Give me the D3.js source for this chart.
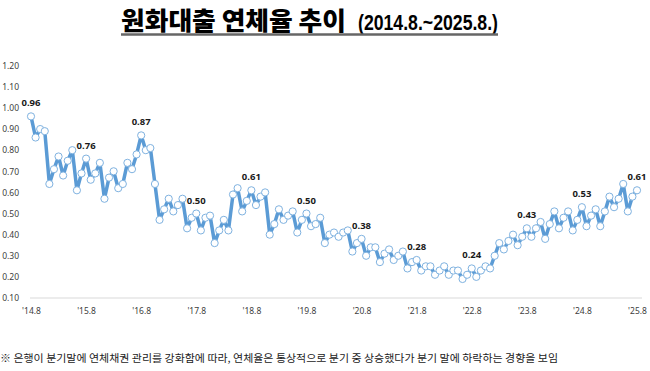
<!DOCTYPE html>
<html>
<head>
<meta charset="utf-8">
<script src="https://cdn.jsdelivr.net/npm/d3@7"></script>
<style>
  body { margin: 0; background: #fff; }
  svg { display: block; }
</style>
</head>
<body>
<div class="container"></div>
<script>
// monthly won-loan delinquency rate (%), 2014.8 ~ 2025.8
const months = [];
for (let y = 2014; y <= 2025; y++) {
  for (let m = 1; m <= 12; m++) {
    if ((y === 2014 && m < 8) || (y === 2025 && m > 8)) continue;
    months.push(y + "." + m);
  }
}

const rates = [
  0.96, 0.86, 0.90, 0.89, 0.64,                                     // 2014.8-12
  0.71, 0.77, 0.68, 0.75, 0.80, 0.61, 0.69, 0.76, 0.66, 0.69, 0.74, 0.57, // 2015
  0.67, 0.70, 0.62, 0.64, 0.74, 0.71, 0.78, 0.87, 0.80, 0.81, 0.64, 0.47, // 2016
  0.52, 0.57, 0.51, 0.54, 0.57, 0.43, 0.48, 0.50, 0.42, 0.48, 0.49, 0.36, // 2017
  0.42, 0.47, 0.42, 0.59, 0.62, 0.51, 0.56, 0.61, 0.54, 0.58, 0.60, 0.40, // 2018
  0.45, 0.52, 0.47, 0.49, 0.51, 0.41, 0.47, 0.50, 0.44, 0.45, 0.48, 0.36, // 2019
  0.40, 0.41, 0.39, 0.41, 0.42, 0.32, 0.36, 0.38, 0.30, 0.34, 0.34, 0.27, // 2020
  0.31, 0.33, 0.28, 0.30, 0.32, 0.24, 0.27, 0.28, 0.23, 0.25, 0.25, 0.21, // 2021
  0.23, 0.25, 0.21, 0.23, 0.23, 0.19, 0.21, 0.24, 0.20, 0.23, 0.25, 0.24, // 2022
  0.30, 0.36, 0.33, 0.37, 0.40, 0.35, 0.39, 0.43, 0.39, 0.43, 0.46, 0.38, // 2023
  0.45, 0.51, 0.43, 0.48, 0.51, 0.42, 0.47, 0.53, 0.44, 0.49, 0.52, 0.44, // 2024
  0.51, 0.58, 0.53, 0.57, 0.64, 0.51, 0.58, 0.61                    // 2025.1-8
];

// x tick labels (every August) and y ticks
const xTickLabels = ["'14.8", "'15.8", "'16.8", "'17.8", "'18.8", "'19.8", "'20.8", "'21.8", "'22.8", "'23.8", "'24.8", "'25.8"];
const yTicks = [0.10, 0.20, 0.30, 0.40, 0.50, 0.60, 0.70, 0.80, 0.90, 1.00, 1.10, 1.20];

const title = "원화대출 연체율 추이";
const period = "(2014.8.~2025.8.)";
const footnote = "※ 은행이 분기말에 연체채권 관리를 강화함에 따라, 연체율은 통상적으로 분기 중 상승했다가 분기 말에 하락하는 경향을 보임";

const width = 650;
const height = 371;
const blue = "#5B9BD5";

const svg = d3.select(".container")
              .append("svg")
              .attr("width", width)
              .attr("height", height);

// title
svg.append("text")
   .attr("x", 121)
   .attr("y", 30)
   .attr("font-family", "'Noto Sans CJK KR'")
   .attr("font-weight", 900)
   .attr("font-size", 25)
   .attr("textLength", 225)
   .attr("lengthAdjust", "spacingAndGlyphs")
   .attr("fill", "#000")
   .text(title);

svg.append("text")
   .attr("x", 358)
   .attr("y", 30)
   .attr("font-family", "'Liberation Sans Narrow', 'Liberation Sans', sans-serif")
   .attr("font-weight", "bold")
   .attr("font-size", 22)
   .attr("textLength", 140)
   .attr("lengthAdjust", "spacingAndGlyphs")
   .attr("fill", "#000")
   .text(period);

// title underline
svg.append("line")
   .attr("x1", 121)
   .attr("x2", 498)
   .attr("y1", 34.5)
   .attr("y2", 34.5)
   .attr("stroke", "#666")
   .attr("stroke-width", 2.5);

// scales
const x = d3.scaleLinear()
            .domain([0, rates.length - 1])
            .range([31, 637]);

const y = d3.scaleLinear()
            .domain([0.1, 1.2])
            .range([298, 65.7]);

// y axis labels only (no line, no ticks)
const yAxis = d3.axisLeft(y)
                .tickValues(yTicks)
                .tickFormat(d3.format(".2f"))
                .tickSize(0)
                .tickPadding(0);

const gy = svg.append("g")
              .attr("transform", "translate(19,0)")
              .call(yAxis);
gy.select(".domain").remove();
gy.selectAll("text")
  .attr("font-family", "'Noto Sans', sans-serif")
  .attr("font-size", 8.5)
  .attr("fill", "#404040");

// x axis
const xAxis = d3.axisBottom(x)
                .tickValues(d3.range(0, rates.length, 12))
                .tickFormat((d, i) => xTickLabels[i])
                .tickSize(0)
                .tickPadding(10);

const gx = svg.append("g")
              .attr("transform", "translate(0,298)")
              .call(xAxis);
gx.select(".domain")
  .attr("d", "M30,0H642")
  .attr("stroke", "#d9d9d9")
  .attr("stroke-width", 1);
gx.selectAll("text")
  .attr("font-family", "'Noto Sans', sans-serif")
  .attr("font-size", 8.5)
  .attr("fill", "#404040");

// line
const line = d3.line()
               .x((d, i) => x(i))
               .y((d) => y(d));

svg.append("path")
   .datum(rates)
   .attr("d", line)
   .attr("fill", "none")
   .attr("stroke", blue)
   .attr("stroke-width", 3.5)
   .attr("stroke-linejoin", "round");

// markers
svg.append("g")
   .selectAll("circle")
   .data(rates)
   .enter()
   .append("circle")
   .attr("cx", (d, i) => x(i))
   .attr("cy", (d) => y(d))
   .attr("r", 3.6)
   .attr("fill", "#fff")
   .attr("stroke", "#7FB2E0")
   .attr("stroke-width", 1);

// data labels every August
svg.append("g")
   .selectAll("text")
   .data(rates.map((d, i) => ({ i: i, v: d })).filter((d) => d.i % 12 === 0))
   .enter()
   .append("text")
   .attr("x", (d) => x(d.i))
   .attr("y", (d) => y(d.v) - 10)
   .attr("text-anchor", "middle")
   .attr("font-family", "'Noto Sans', sans-serif")
   .attr("font-weight", "bold")
   .attr("font-size", 9.5)
   .attr("fill", "#1a1a1a")
   .text((d) => d.v.toFixed(2));

// footnote
svg.append("text")
   .attr("x", 0)
   .attr("y", 362)
   .attr("font-family", "'Noto Sans CJK KR'")
   .attr("font-size", 10.5)
   .attr("textLength", 558)
   .attr("lengthAdjust", "spacingAndGlyphs")
   .attr("fill", "#222")
   .text(footnote);
</script>
</body>
</html>
